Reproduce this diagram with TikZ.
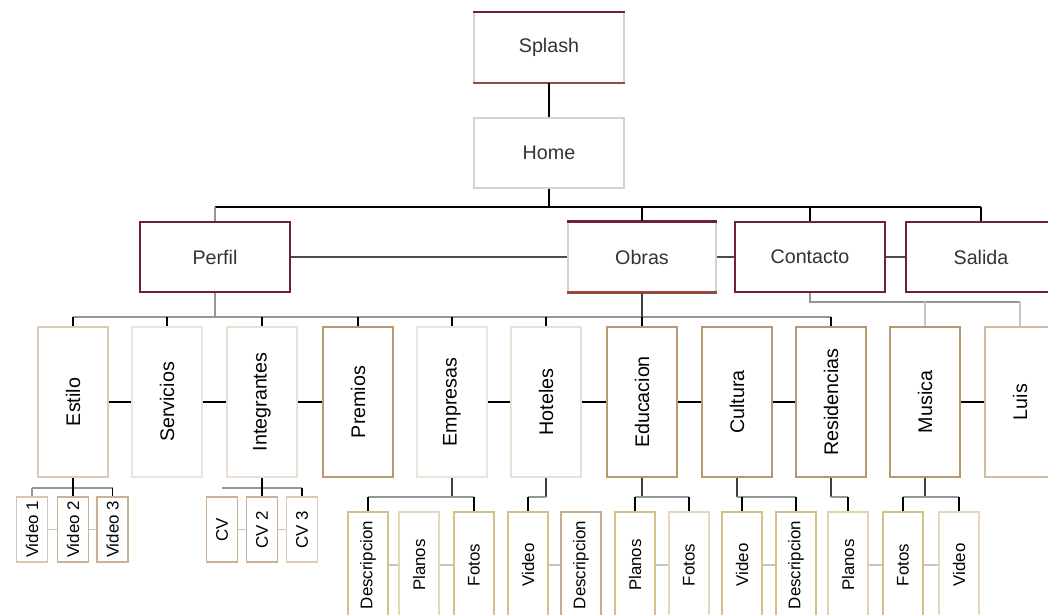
\documentclass[tikz,border=0pt]{standalone}
\usepackage{fontspec}
\setmainfont{Liberation Sans}
\usepackage{graphicx}
\usepackage{xcolor}
\usepackage{tikz}
\definecolor{pagemaroon}{RGB}{112,32,60}
\definecolor{pagegray}{RGB}{214,208,208}
\definecolor{sectiontan}{RGB}{185,152,112}
\definecolor{itemkhaki}{RGB}{214,192,138}
\definecolor{busgray}{RGB}{150,150,150}
\tikzset{
    pagebox/.style={rectangle, minimum width=3.75cm, minimum height=1.75cm, inner sep=0pt,
                    draw=pagemaroon, line width=1.6pt, fill=white,
                    font=\fontsize{14}{16}\selectfont, text=black!80},
    sectionbox/.style={rectangle, minimum width=1.75cm, minimum height=3.75cm, inner sep=0pt,
                       draw=sectiontan, line width=1.2pt, fill=white,
                       font=\fontsize{14}{16}\selectfont},
    itembox/.style={rectangle, minimum width=1cm, minimum height=2.65cm, inner sep=0pt,
                    draw=itemkhaki, line width=1.1pt, fill=white,
                    font=\fontsize{12}{14}\selectfont},
    smallitem/.style={itembox, minimum width=0.775cm, minimum height=1.625cm, draw=sectiontan!75},
    link/.style={line width=1.4pt, black},
    bus/.style={line width=1.1pt, busgray},
    sibling/.style={line width=0.8pt, busgray!55}
}
\newcommand{\sidetext}[1]{\rotatebox{90}{#1}}

\begin{document}
\begin{tikzpicture}[x=0.025cm, y=-0.025cm]
    \clip (0,0) rectangle (1048,614);

    % Top pages
    \node[pagebox, draw=pagegray, line width=0.8pt] (splash) at (549,47.5) {Splash};
    \node[pagebox, draw=pagegray, line width=0.8pt] (home) at (549,153) {Home};
    \draw[pagemaroon, line width=1.6pt] (splash.north west) -- (splash.north east);
    \draw[pagemaroon!55!brown, line width=1.6pt] (splash.south west) -- (splash.south east);
    \draw[link] (splash) -- (home);

    % Main sections
    \node[pagebox] (perfil) at (215,257) {Perfil};
    \node[pagebox, draw=pagegray, line width=0.8pt, minimum width=3.7cm] (obras) at (642,257) {Obras};
    \node[pagebox] (contacto) at (810,257) {Contacto};
    \node[pagebox] (salida) at (981,257) {Salida};
    \draw[pagemaroon, line width=1.6pt] (obras.north west) -- (obras.north east);
    \draw[pagemaroon!55!brown, line width=1.6pt] (obras.south west) -- (obras.south east);

    \coordinate (bus1) at (0,207);
    \draw[link, line width=2pt] (home.south) -- (home.south |- bus1);
    \draw[link, line width=2pt] (perfil.north |- bus1) -- (salida.north |- bus1);
    \draw[bus] (perfil.north |- bus1) -- (perfil.north);
    \foreach \n in {obras, contacto, salida}
        \draw[link] (\n.north |- bus1) -- (\n.north);
    \draw[link, black!70] (perfil) -- (obras);
    \draw[link, black!70] (obras) -- (contacto);
    \draw[link, black!70] (contacto) -- (salida);

    % Subsections
    \node[sectionbox, draw=sectiontan!50] (estilo) at (73,402) {\sidetext{Estilo}};
    \node[sectionbox, draw=sectiontan!25] (servicios) at (167,402) {\sidetext{Servicios}};
    \node[sectionbox, draw=sectiontan!30] (integrantes) at (262,402) {\sidetext{Integrantes}};
    \node[sectionbox] (premios) at (358,402) {\sidetext{Premios}};
    \node[sectionbox, draw=sectiontan!25] (empresas) at (452,402) {\sidetext{Empresas}};
    \node[sectionbox, draw=sectiontan!30] (hoteles) at (546,402) {\sidetext{Hoteles}};
    \node[sectionbox] (educacion) at (642,402) {\sidetext{Educacion}};
    \node[sectionbox] (cultura) at (737,402) {\sidetext{Cultura}};
    \node[sectionbox] (residencias) at (831,402) {\sidetext{Residencias}};
    \node[sectionbox] (musica) at (925,402) {\sidetext{Musica}};
    \node[sectionbox, draw=sectiontan!65] (luis) at (1020,402) {\sidetext{Luis}};

    \coordinate (bus2) at (0,317);
    \draw[bus] (estilo.north |- bus2) -- (residencias.north |- bus2);
    \draw[bus] (perfil.south) -- (perfil.south |- bus2);
    \draw[link, black!75] (obras.south) -- (obras.south |- bus2);
    \foreach \n in {estilo, servicios, integrantes, premios, empresas, hoteles, educacion, residencias}
        \draw[link] (\n.north |- bus2) -- (\n.north);

    \coordinate (bus3) at (0,302);
    \draw[bus] (contacto.south) -- (contacto.south |- bus3) -- (luis.north |- bus3);
    \draw[sibling] (musica.north |- bus3) -- (musica.north);
    \draw[sibling] (luis.north |- bus3) -- (luis.north);

    \foreach \a/\b in {estilo/servicios, servicios/integrantes, integrantes/premios,
                       empresas/hoteles, hoteles/educacion, educacion/cultura,
                       cultura/residencias, musica/luis}
        \draw[link] (\a) -- (\b);

    % Perfil items
    \node[smallitem, draw=sectiontan!55] (video1) at (32,529.5) {\sidetext{Video 1}};
    \node[smallitem] (video2) at (73,529.5) {\sidetext{Video 2}};
    \node[smallitem] (video3) at (112.5,529.5) {\sidetext{Video 3}};
    \node[smallitem] (cv1) at (222,529.5) {\sidetext{CV}};
    \node[smallitem] (cv2) at (262,529.5) {\sidetext{CV 2}};
    \node[smallitem, draw=sectiontan!50] (cv3) at (302,529.5) {\sidetext{CV 3}};

    \coordinate (bus4) at (0,488);
    \draw[bus] (video1.north |- bus4) -- (video3.north |- bus4);
    \draw[bus] (cv1.north |- bus4) -- (cv3.north |- bus4);
    \draw[link] (estilo.south) -- (video2.north);
    \draw[link] (integrantes.south) -- (cv2.north);
    \draw[link] (video3.north |- bus4) -- (video3.north);
    \draw[link] (cv3.north |- bus4) -- (cv3.north);
    \draw[bus] (video1.north |- bus4) -- (video1.north);
    \foreach \a/\b in {video1/video2, video2/video3, cv1/cv2, cv2/cv3}
        \draw[sibling] (\a) -- (\b);

    % Obras items
    \node[itembox] (desc1) at (368,565) {\sidetext{Descripcion}};
    \node[itembox, draw=itemkhaki!60] (planos1) at (419,565) {\sidetext{Planos}};
    \node[itembox] (fotos1) at (474,565) {\sidetext{Fotos}};
    \node[itembox] (video4) at (528,565) {\sidetext{Video}};
    \node[itembox, draw=sectiontan!80] (desc2) at (581,565) {\sidetext{Descripcion}};
    \node[itembox] (planos2) at (635,565) {\sidetext{Planos}};
    \node[itembox, draw=itemkhaki!60] (fotos2) at (689,565) {\sidetext{Fotos}};
    \node[itembox] (video5) at (742,565) {\sidetext{Video}};
    \node[itembox] (desc3) at (796,565) {\sidetext{Descripcion}};
    \node[itembox, draw=itemkhaki!70] (planos3) at (848,565) {\sidetext{Planos}};
    \node[itembox] (fotos3) at (903,565) {\sidetext{Fotos}};
    \node[itembox, draw=itemkhaki!60] (video6) at (959,565) {\sidetext{Video}};

    \coordinate (bus5) at (0,497);
    \foreach \p/\a/\b in {empresas/desc1/fotos1, hoteles/video4/video4, educacion/planos2/fotos2,
                          cultura/video5/desc3, residencias/planos3/planos3, musica/fotos3/video6} {
        \draw[link, black!75] (\p.south) -- (\p.south |- bus5);
        \draw[bus] (\a.north |- bus5) -- (\p.south |- bus5) -- (\b.north |- bus5);
    }
    \foreach \c in {desc1, fotos1, video4, planos2, fotos2, video5, desc3, planos3, fotos3, video6}
        \draw[link] (\c.north |- bus5) -- (\c.north);
    \foreach \a/\b in {desc1/planos1, planos1/fotos1, video4/desc2, planos2/fotos2,
                       video5/desc3, planos3/fotos3, fotos3/video6}
        \draw[sibling] (\a) -- (\b);
\end{tikzpicture}
\end{document}
